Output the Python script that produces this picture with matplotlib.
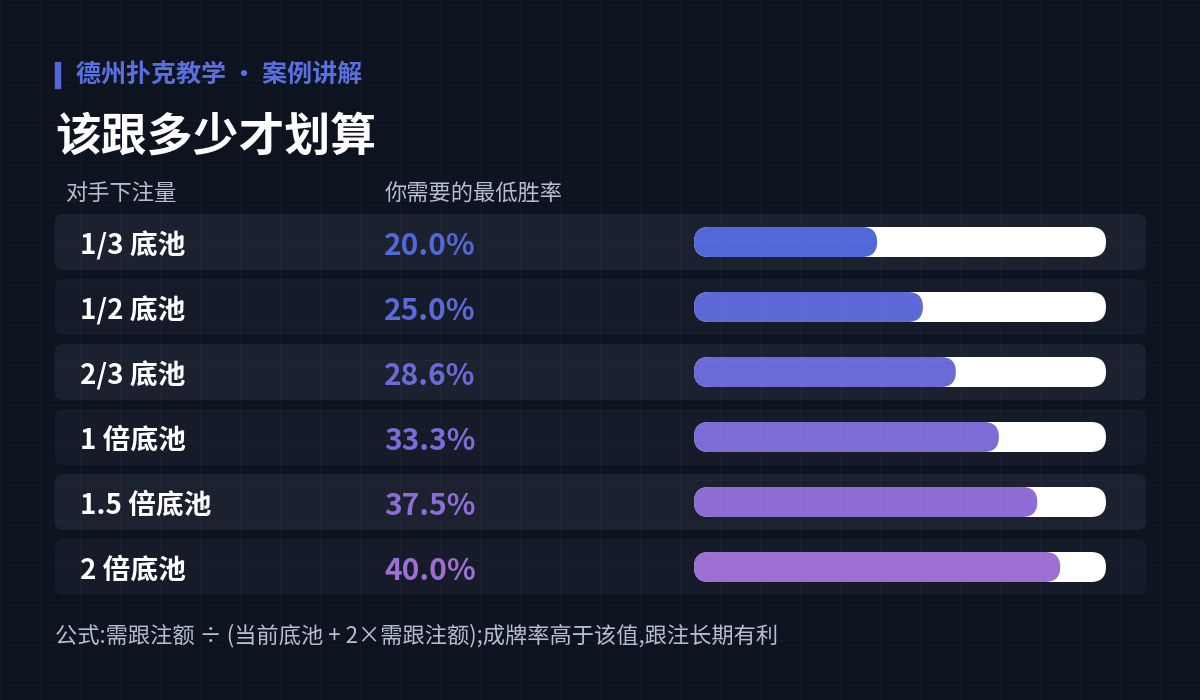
import matplotlib
matplotlib.use("Agg")
import matplotlib.pyplot as plt
from matplotlib.patches import FancyBboxPatch
import numpy as np

plt.rcParams['font.family'] = ['Noto Sans CJK SC', 'DejaVu Sans']

categories = ["1/3 底池", "1/2 底池", "2/3 底池", "1 倍底池", "1.5 倍底池", "2 倍底池"]
values = [20.0, 25.0, 28.6, 33.3, 37.5, 40.0]
scale_max = 45.0
bar_colors = ["#5068d8", "#5d69d6", "#6c6ad6", "#7d6bd6", "#8e6dd4", "#9e6fd2"]

fig = plt.figure(figsize=(12, 7), dpi=100)
fig.patch.set_facecolor("#0e1320")
ax = fig.add_axes([0, 0, 1, 1])
ax.set_xlim(0, 1200); ax.set_ylim(700, 0); ax.axis("off")
ax.set_facecolor("#0e1320")

for gx in np.arange(0, 1201, 40):
    ax.plot([gx, gx], [0, 700], color="#ffffff", alpha=0.025, lw=1)
for gy in np.arange(0, 701, 40):
    ax.plot([0, 1200], [gy, gy], color="#ffffff", alpha=0.025, lw=1)

ax.add_patch(plt.Rectangle((55, 62), 5, 26, color="#5068d8"))
ax.text(76, 76, "德州扑克教学 · 案例讲解", color="#5a6fe0", fontsize=18, fontweight="bold", va="center")
ax.text(55, 138, "该跟多少才划算", color="white", fontsize=33, fontweight="bold", va="center")
ax.text(66, 193, "对手下注量", color="#b6bfcf", fontsize=16, fontweight="medium", va="center")
ax.text(385, 193, "你需要的最低胜率", color="#b6bfcf", fontsize=16, fontweight="medium", va="center")

track_x0, track_w, bh = 694, 412, 30
for i, (cat, v, c) in enumerate(zip(categories, values, bar_colors)):
    top = 214 + i * 65
    rowc = "#1c2130" if i % 2 == 0 else "#161b29"
    ax.add_patch(FancyBboxPatch((55, top), 1091, 56, boxstyle="round,pad=0,rounding_size=8",
                                fc=rowc, ec="none"))
    cy = top + 28
    ax.text(80, cy + 4, cat, color="white", fontsize=20, fontweight="bold", va="center")
    ax.text(384, cy + 4, f"{v:.1f}%", color=c, fontsize=21.5, fontweight="bold", va="center")
    ax.add_patch(FancyBboxPatch((track_x0, cy - bh / 2), track_w, bh,
                                boxstyle=f"round,pad=0,rounding_size={bh/2}", fc="white", ec="none"))
    w = track_w * v / scale_max
    ax.add_patch(FancyBboxPatch((track_x0, cy - bh / 2), w, bh,
                                boxstyle=f"round,pad=0,rounding_size={bh/2}", fc=c, ec="none"))

ax.text(55, 636, "公式:需跟注额 ÷ (当前底池 + 2×需跟注额);成牌率高于该值,跟注长期有利",
        color="#b6bfcf", fontsize=16, fontweight="medium", va="center")

fig.savefig("out.png", dpi=100, facecolor=fig.get_facecolor())
